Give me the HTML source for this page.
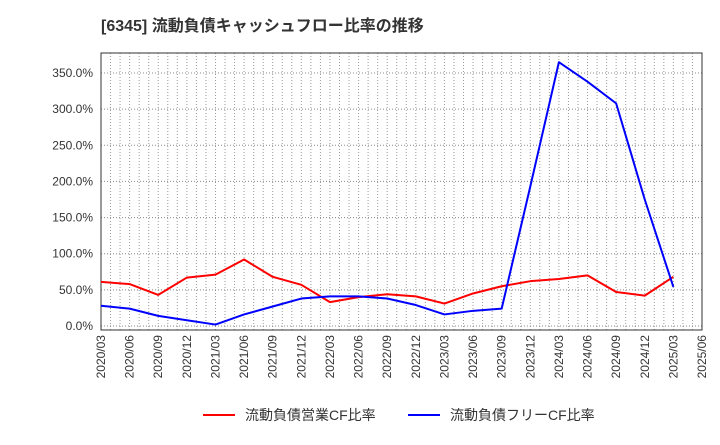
<!DOCTYPE html>
<html><head><meta charset="utf-8"><style>
body{margin:0;background:#fff;font-family:"Liberation Sans","Noto Sans CJK JP",sans-serif;}
</style></head><body>
<svg id="chart" width="720" height="440" xmlns="http://www.w3.org/2000/svg" font-family="Liberation Sans, Noto Sans CJK JP, sans-serif">
<text x="101" y="31" font-size="16" font-weight="bold" fill="#333">[6345]  流動負債キャッシュフロー比率の推移</text>
<g id="grid"></g><g id="axes"></g><g id="series"></g>
<g>
<line x1="203" y1="415" x2="235" y2="415" stroke="#f00" stroke-width="2"/>
<text x="245" y="420" font-size="14" fill="#333">流動負債営業CF比率</text>
<line x1="408" y1="415" x2="440" y2="415" stroke="#00f" stroke-width="2"/>
<text x="450" y="420" font-size="14" fill="#333">流動負債フリーCF比率</text>
</g>
</svg>
<script>
const categories=["2020/03","2020/06","2020/09","2020/12","2021/03","2021/06","2021/09","2021/12","2022/03","2022/06","2022/09","2022/12","2023/03","2023/06","2023/09","2023/12","2024/03","2024/06","2024/09","2024/12","2025/03","2025/06"];
const operatingCF=[61,58,43,67,71,92,68,57,33,40,44,41,31,45,55,62,65,70,47,42,68];
const freeCF=[28,24,14,8,2,16,27,38,41,41,38,29,16,21,24,193,365,338,308,175,54];
const yTicks=[0,50,100,150,200,250,300,350];
const L=101,R=702,T=53,B=330,Y0=326,PER=253/350;
const xs=i=>L+i*(R-L)/(categories.length-1);
const ys=v=>Y0-v*PER;
const NS="http://www.w3.org/2000/svg";
function mk(tag,attrs,parent){const e=document.createElementNS(NS,tag);for(const k in attrs)e.setAttribute(k,attrs[k]);parent.appendChild(e);return e;}
const grid=document.getElementById('grid'),axes=document.getElementById('axes'),series=document.getElementById('series');
for(let m=1;m<(categories.length-1)*3;m++){const x=L+m*(R-L)/((categories.length-1)*3);
const g=mk('line',{x1:x,x2:x,y1:T,y2:B,stroke:'#999','stroke-width':1,'stroke-dasharray':'1,2'},grid);

}
yTicks.forEach(v=>{const y=ys(v);
const g=mk('line',{x1:L,x2:R,y1:y,y2:y,stroke:'#888','stroke-width':1,'stroke-dasharray':'1,2'},grid);


const t=mk('text',{x:93,y:y+4,'font-size':12,'text-anchor':'end',fill:'#333'},axes);t.textContent=v.toFixed(1)+'%';

});
const fr=mk('rect',{x:L,y:T,width:R-L,height:B-T,fill:'none',stroke:'#333','stroke-width':1},axes);


categories.forEach((c,i)=>{const x=xs(i);
const t=mk('text',{transform:`translate(${x+4},${B+5}) rotate(-90)`,'font-size':12,'text-anchor':'end',fill:'#333'},axes);t.textContent=c;

});
function line(data,color,name){const p=mk('polyline',{points:data.map((v,i)=>xs(i)+','+ys(v)).join(' '),fill:'none',stroke:color,'stroke-width':2,'stroke-linejoin':'round'},series);

}
line(operatingCF,'#f00','operating-cf-line');
line(freeCF,'#00f','free-cf-line');
</script>
</body></html>
